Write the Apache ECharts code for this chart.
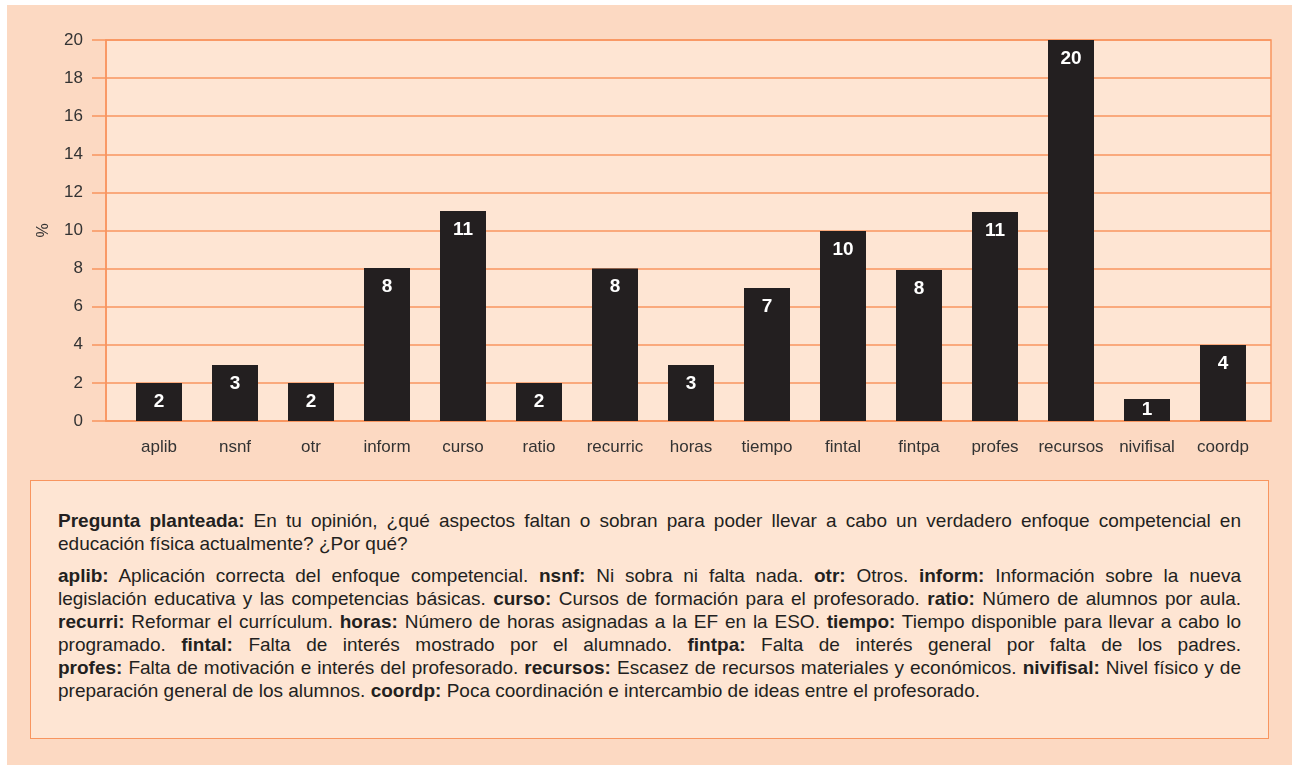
<!DOCTYPE html>
<html>
<head>
<meta charset="utf-8">
<script src="https://cdn.jsdelivr.net/npm/echarts@6/dist/echarts.min.js"></script>
<style>
  html, body { margin: 0; padding: 0; background: #ffffff; }
  #panel {
    position: absolute; left: 7px; top: 5px; width: 1285px; height: 760px;
    background: #fcd9c2;
  }
  #chart { position: absolute; left: 0; top: 0; width: 1294px; height: 470px; }
  #note {
    position: absolute; left: 30px; top: 480px; width: 1183px; height: 229px;
    padding: 28px 27px 0 27px;
    background: #fee5d3; border: 1.5px solid #f8955f;
    font-family: "Liberation Sans", Arial, sans-serif; font-size: 19px;
    line-height: 23px; color: #231f20;
  }
  #note p { margin: 0 0 9px 0; }
  #note .ln { display: block; text-align: justify; text-align-last: justify; white-space: nowrap; }
  #note .end { text-align: left; text-align-last: left; }
  #note b { font-weight: bold; }
</style>
</head>
<body>
<div id="panel"></div>
<div id="chart"></div>
<div id="note">
  <p>
    <span class="ln"><b>Pregunta planteada:</b> En tu opinión, ¿qué aspectos faltan o sobran para poder llevar a cabo un verdadero enfoque competencial en</span>
    <span class="ln end">educación física actualmente? ¿Por qué?</span>
  </p>
  <p>
    <span class="ln"><b>aplib:</b> Aplicación correcta del enfoque competencial. <b>nsnf:</b> Ni sobra ni falta nada. <b>otr:</b> Otros. <b>inform:</b> Información sobre la nueva</span>
    <span class="ln">legislación educativa y las competencias básicas. <b>curso:</b> Cursos de formación para el profesorado. <b>ratio:</b> Número de alumnos por aula.</span>
    <span class="ln"><b>recurri:</b> Reformar el currículum. <b>horas:</b> Número de horas asignadas a la EF en la ESO. <b>tiempo:</b> Tiempo disponible para llevar a cabo lo</span>
    <span class="ln">programado. <b>fintal:</b> Falta de interés mostrado por el alumnado. <b>fintpa:</b> Falta de interés general por falta de los padres.</span>
    <span class="ln"><b>profes:</b> Falta de motivación e interés del profesorado. <b>recursos:</b> Escasez de recursos materiales y económicos. <b>nivifisal:</b> Nivel físico y de</span>
    <span class="ln end">preparación general de los alumnos. <b>coordp:</b> Poca coordinación e intercambio de ideas entre el profesorado.</span>
  </p>
</div>
<script>
// categories and bar heights (%)
const categories = ['aplib', 'nsnf', 'otr', 'inform', 'curso', 'ratio', 'recurric', 'horas',
  'tiempo', 'fintal', 'fintpa', 'profes', 'recursos', 'nivifisal', 'coordp'];
const values = [2, 2.94, 2, 8.03, 11.02, 2, 8, 2.94, 6.98, 9.97, 7.93, 10.97, 20, 1.15, 3.99];
const yTicks = { min: 0, max: 20, interval: 2 };

const orange = '#f8955f';
const ink = '#231f20';
const font = '"Liberation Sans", Arial, sans-serif';

const chart = echarts.init(document.getElementById('chart'));

const barData = values.map(v => {
  const item = { value: v };
  // very short bar: label sits in the middle instead of the top
  if (v < 1.5) item.label = { position: 'inside' };
  return item;
});

chart.setOption({
  backgroundColor: 'transparent',
  animation: false,
  grid: [
    // frame, gridlines and y axis
    { left: 106, right: 23, top: 40, bottom: 49, show: true,
      backgroundColor: '#fee5d3', borderColor: orange, borderWidth: 1.5 },
    // bars sit a bit inset from the frame
    { left: 121, right: 33, top: 40, bottom: 49 }
  ],
  xAxis: [
    { gridIndex: 0, type: 'value', min: 0, max: 1,
      axisLine: { show: true, lineStyle: { color: orange, width: 1.5 } },
      axisTick: { show: false }, axisLabel: { show: false }, splitLine: { show: false } },
    { gridIndex: 1, type: 'category', data: categories,
      axisLine: { show: false }, axisTick: { show: false },
      axisLabel: { color: '#333', fontSize: 17, fontFamily: font, margin: 18, interval: 0 } }
  ],
  yAxis: [
    { gridIndex: 0, type: 'value',
      min: yTicks.min, max: yTicks.max, interval: yTicks.interval,
      name: '%', nameLocation: 'middle', nameRotate: 90, nameGap: 54,
      nameTextStyle: { color: '#333', fontSize: 16, fontFamily: font },
      axisLine: { show: true, lineStyle: { color: orange, width: 1.5 } },
      axisTick: { show: true, length: 14, lineStyle: { color: orange, width: 1.5 } },
      axisLabel: { color: '#333', fontSize: 17, fontFamily: font, margin: 23 },
      splitLine: { lineStyle: { color: orange, width: 1.5 } } },
    { gridIndex: 1, type: 'value',
      min: yTicks.min, max: yTicks.max, interval: yTicks.interval,
      show: false }
  ],
  series: [{
    type: 'bar',
    xAxisIndex: 1,
    yAxisIndex: 1,
    data: barData,
    barWidth: 46,
    itemStyle: { color: ink },
    label: {
      show: true,
      position: 'insideTop',
      distance: 9,
      color: '#ffffff',
      fontSize: 19,
      fontWeight: 'bold',
      fontFamily: font,
      formatter: p => Math.round(p.value)
    }
  }]
});
</script>
</body>
</html>
